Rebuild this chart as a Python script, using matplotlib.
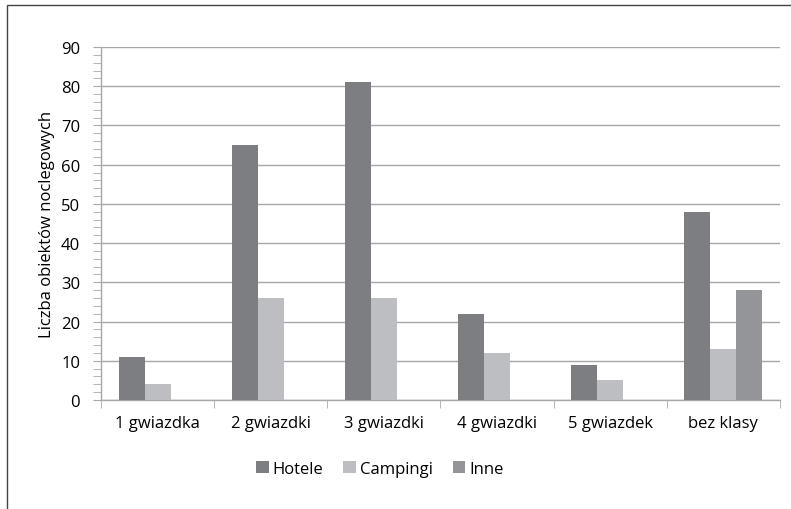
import numpy as np
import matplotlib
matplotlib.use("Agg")
import matplotlib.pyplot as plt
from matplotlib.patches import Rectangle
from matplotlib.ticker import MultipleLocator

categories = ["1 gwiazdka", "2 gwiazdki", "3 gwiazdki", "4 gwiazdki", "5 gwiazdek", "bez klasy"]
hotele = [11, 65, 81, 22, 9, 48]
campingi = [4, 26, 26, 12, 5, 13]
inne = [0, 0, 0, 0, 0, 28]
series_names = ["Hotele", "Campingi", "Inne"]
colors = ["#7d7e82", "#bdbec1", "#949598"]

plt.rcParams["font.family"] = ["Open Sans", "DejaVu Sans"]
FS = 12

fig = plt.figure(figsize=(7.91, 5.10), dpi=100)
ax = fig.add_axes([101 / 791, 109 / 510, 679 / 791, 353 / 510])

# outer chart frame (right and bottom edges fall outside the crop)
fig.patches.append(Rectangle((7 / 791, -0.01), 0.995, 0.999 - 5 / 510 + 0.01,
                             transform=fig.transFigure, fill=False,
                             edgecolor="#444444", linewidth=1.0))

x = np.arange(len(categories))
w = 0.23
for i, (vals, name, col) in enumerate(zip([hotele, campingi, inne], series_names, colors)):
    ax.bar(x + (i - 1) * w, vals, width=w, color=col, label=name, zorder=3)

ax.set_xlim(-0.5, len(categories) - 0.5)
ax.set_ylim(0, 90)
ax.yaxis.set_major_locator(MultipleLocator(10))
ax.yaxis.set_minor_locator(MultipleLocator(2))
ax.grid(axis="y", color="#a8a8a8", linewidth=1.0, zorder=0)

ax.set_xticks(x)
ax.set_xticklabels(categories, fontsize=FS)
ax.set_xticks(np.arange(len(categories) + 1) - 0.5, minor=True)
ax.tick_params(axis="x", which="major", length=0, pad=11)
ax.tick_params(axis="x", which="minor", length=6, color="#a8a8a8", direction="out")
ax.tick_params(axis="y", which="both", length=6, color="#a8a8a8", labelsize=FS, pad=9)

for s in ["top", "right"]:
    ax.spines[s].set_visible(False)
for s in ["left", "bottom"]:
    ax.spines[s].set_color("#a8a8a8")
    ax.spines[s].set_linewidth(1.0)

ax.set_ylabel("Liczba obiektów noclegowych", fontsize=FS, labelpad=4)

fig.legend(loc="center", bbox_to_anchor=(380 / 791, 40 / 510), ncol=3, frameon=False,
           fontsize=FS, handlelength=0.75, handleheight=0.75, handletextpad=0.25,
           columnspacing=1.2)

fig.savefig("out.png", dpi=100)
